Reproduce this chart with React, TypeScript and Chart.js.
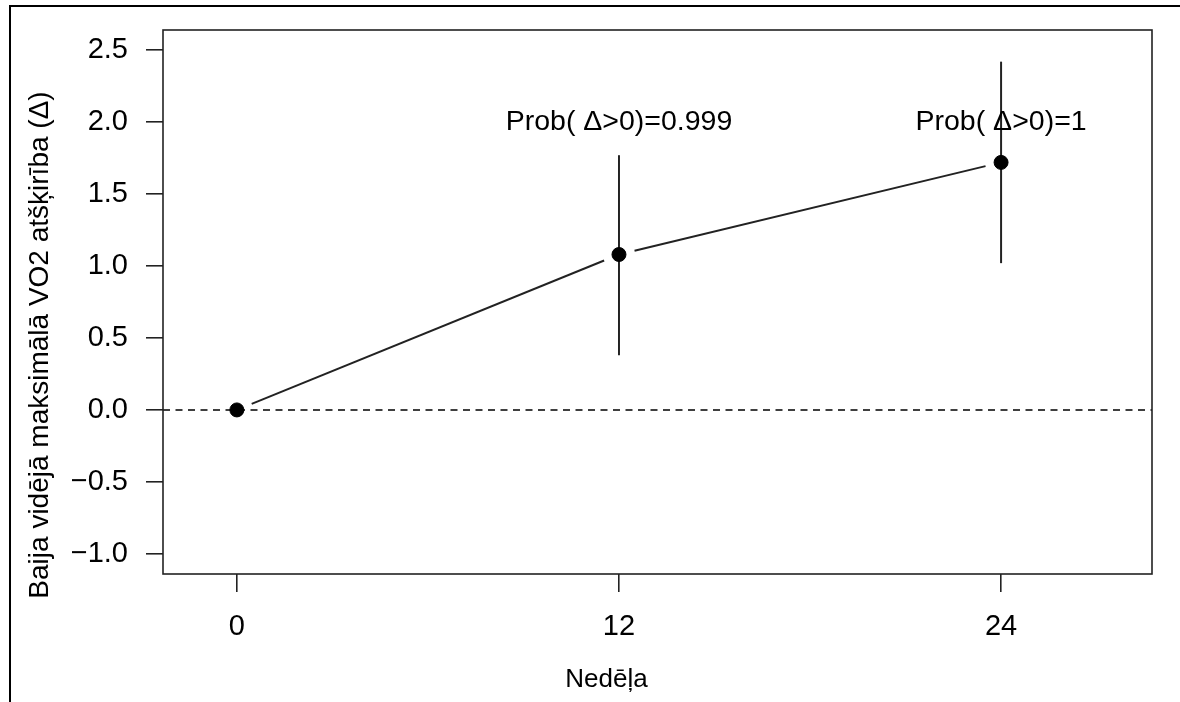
import React, { useEffect, useRef } from "react";
import { Chart, registerables } from "chart.js";

Chart.register(...registerables);

// ---- data ----
const weeks: number[] = [0, 12, 24];
const meanDiff: number[] = [0.0, 1.08, 1.72];
const lowerCI: (number | null)[] = [null, 0.38, 1.02];
const upperCI: (number | null)[] = [null, 1.77, 2.42];
const probLabels: (string | null)[] = [null, "Prob( Δ>0)=0.999", "Prob( Δ>0)=1"];
const probLabelY = 2.0;
const yTicks: number[] = [-1.0, -0.5, 0.0, 0.5, 1.0, 1.5, 2.0, 2.5];
const xTicks: number[] = [0, 12, 24];
const xTitle = "Nedēļa";
const yTitle = "Baija vidējā maksimālā VO2 atšķirība (Δ)";

const FONT = "'Liberation Sans', Arial, sans-serif";
const INK = "#222";

const rPlot = {
  id: "rPlot",
  beforeDatasetsDraw(chart: any) {
    const { ctx, chartArea: a, scales } = chart;
    const x = scales.x;
    const y = scales.y;
    ctx.save();
    // dashed reference line at 0
    ctx.strokeStyle = "#000";
    ctx.lineWidth = 1.6;
    ctx.setLineDash([7, 5.5]);
    const y0 = y.getPixelForValue(0);
    ctx.beginPath();
    ctx.moveTo(a.left, y0);
    ctx.lineTo(a.right, y0);
    ctx.stroke();
    ctx.setLineDash([]);

    // connecting segments with gaps around points (type = "b")
    const gap = 16;
    ctx.strokeStyle = INK;
    ctx.lineWidth = 2;
    for (let i = 0; i < weeks.length - 1; i++) {
      const x1 = x.getPixelForValue(weeks[i]);
      const y1 = y.getPixelForValue(meanDiff[i]);
      const x2 = x.getPixelForValue(weeks[i + 1]);
      const y2 = y.getPixelForValue(meanDiff[i + 1]);
      const d = Math.hypot(x2 - x1, y2 - y1);
      const ux = (x2 - x1) / d;
      const uy = (y2 - y1) / d;
      ctx.beginPath();
      ctx.moveTo(x1 + ux * gap, y1 + uy * gap);
      ctx.lineTo(x2 - ux * gap, y2 - uy * gap);
      ctx.stroke();
    }

    // credible interval bars
    for (let i = 0; i < weeks.length; i++) {
      const lo = lowerCI[i];
      const hi = upperCI[i];
      if (lo == null || hi == null) continue;
      const px = x.getPixelForValue(weeks[i]);
      ctx.beginPath();
      ctx.moveTo(px, y.getPixelForValue(lo));
      ctx.lineTo(px, y.getPixelForValue(hi));
      ctx.stroke();
    }

    // probability labels
    ctx.fillStyle = "#000";
    ctx.font = `28.5px ${FONT}`;
    ctx.textAlign = "center";
    ctx.textBaseline = "middle";
    for (let i = 0; i < weeks.length; i++) {
      const t = probLabels[i];
      if (!t) continue;
      ctx.fillText(t, x.getPixelForValue(weeks[i]), y.getPixelForValue(probLabelY));
    }
    ctx.restore();
  },
  afterDraw(chart: any) {
    const { ctx, chartArea: a } = chart;
    ctx.save();
    ctx.strokeStyle = INK;
    ctx.lineWidth = 1.6;
    ctx.strokeRect(a.left, a.top, a.right - a.left, a.bottom - a.top);
    ctx.fillStyle = "#000";
    ctx.textAlign = "center";
    ctx.textBaseline = "middle";
    ctx.font = `26px ${FONT}`;
    ctx.fillText(xTitle, (a.left + a.right) / 2 - 51, a.bottom + 106);
    ctx.font = `28px ${FONT}`;
    ctx.translate(a.left - 123, (a.top + a.bottom) / 2 + 43);
    ctx.rotate(-Math.PI / 2);
    ctx.fillText(yTitle, 0, 0);
    ctx.restore();
  },
};

export default function App() {
  const ref = useRef<HTMLCanvasElement | null>(null);
  useEffect(() => {
    if (!ref.current) return;
    const chart = new Chart(ref.current, {
      type: "scatter",
      data: {
        datasets: [
          {
            data: weeks.map((w, i) => ({ x: w, y: meanDiff[i] })),
            backgroundColor: "#000",
            borderColor: "#000",
            pointRadius: 7,
            pointHoverRadius: 7,
            showLine: false,
          },
        ],
      },
      options: {
        animation: false,
        responsive: false,
        layout: { padding: { left: 0, top: 30, right: 28, bottom: 0 } },
        plugins: { legend: { display: false }, tooltip: { enabled: false }, title: { display: false } },
        scales: {
          x: {
            type: "linear",
            min: -2.32,
            max: 28.74,
            afterBuildTicks: (s: any) => {
              s.ticks = xTicks.map((v) => ({ value: v }));
            },
            afterFit: (s: any) => {
              s.height = 128;
              s.paddingLeft = 0;
              s.paddingRight = 0;
            },
            border: { display: false },
            grid: { drawOnChartArea: false, drawTicks: true, tickLength: 18, color: INK, lineWidth: 1.6 },
            ticks: {
              color: "#000",
              padding: 18,
              font: { family: FONT, size: 29 },
              maxRotation: 0,
              callback: (v: any) => String(v),
            },
          },
          y: {
            type: "linear",
            min: -1.14,
            max: 2.64,
            afterBuildTicks: (s: any) => {
              s.ticks = yTicks.map((v) => ({ value: v }));
            },
            afterFit: (s: any) => {
              s.width = 163;
              s.paddingTop = 0;
              s.paddingBottom = 0;
            },
            border: { display: false },
            grid: { drawOnChartArea: false, drawTicks: true, tickLength: 17, color: INK, lineWidth: 1.6 },
            ticks: {
              color: "#000",
              padding: 18,
              font: { family: FONT, size: 29 },
              callback: (v: any) => {
                const n = Number(v);
                const s = Math.abs(n).toFixed(1);
                return n < 0 ? "\u2212" + s : s;
              },
            },
          },
        },
      },
      plugins: [rPlot],
    });
    return () => chart.destroy();
  }, []);

  return (
    <div style={{ position: "fixed", left: 0, top: 0, width: 1180, height: 702, background: "#fff", overflow: "hidden" }}>
      <canvas ref={ref} width={1180} height={702} style={{ position: "absolute", left: 0, top: 0, width: 1180, height: 702 }} />
      <div
        style={{
          position: "absolute",
          left: 9,
          top: 5,
          width: 1300,
          height: 800,
          borderTop: "2px solid #000",
          borderLeft: "2px solid #000",
          pointerEvents: "none",
          boxSizing: "border-box",
        }}
      />
    </div>
  );
}
